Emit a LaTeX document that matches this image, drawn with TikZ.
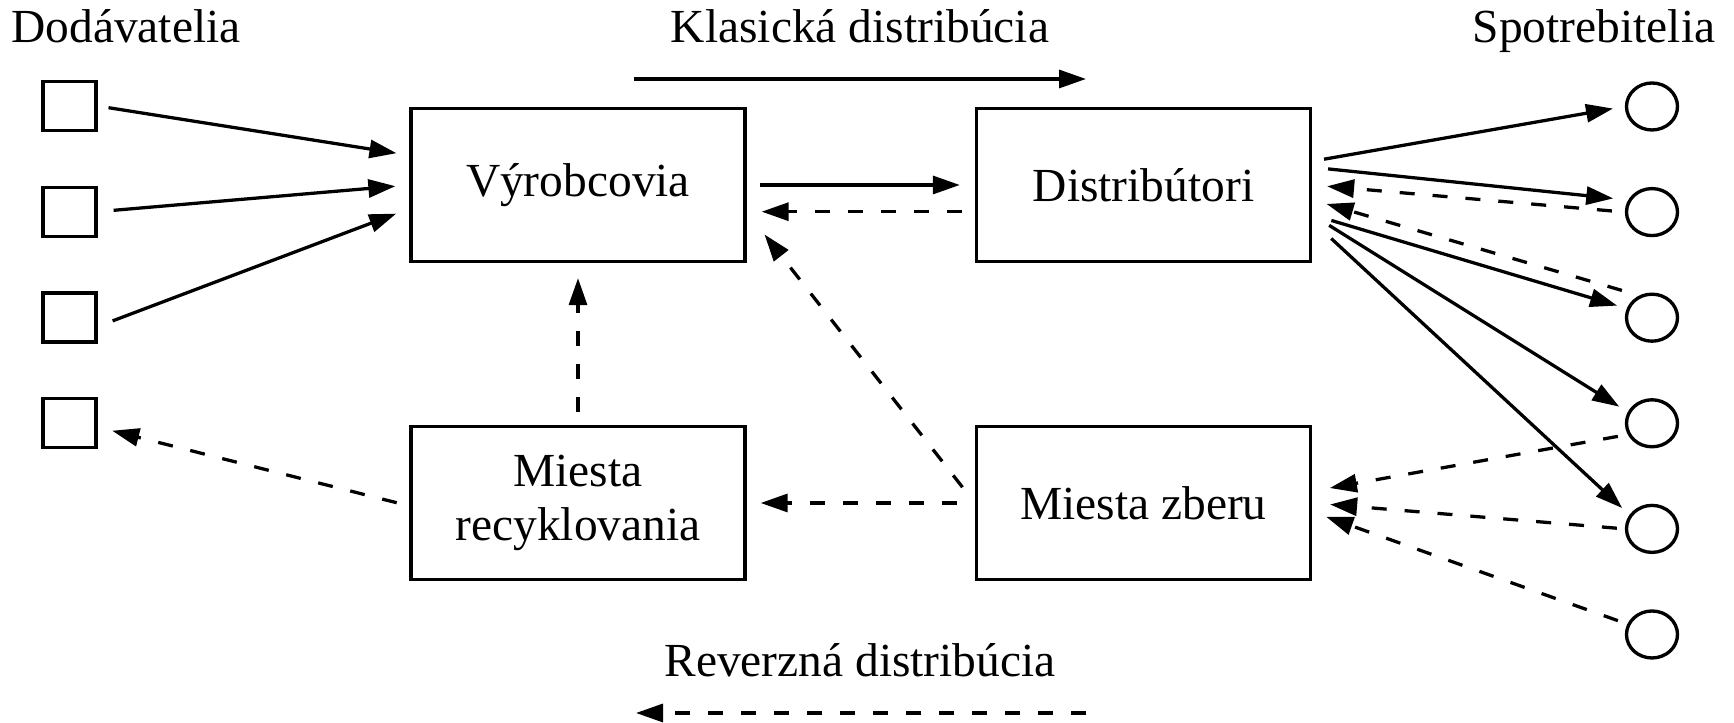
\documentclass[tikz,border=0pt]{standalone}
\usepackage{fontspec}
\setmainfont{Liberation Serif}
\usepackage{tikz}
\usetikzlibrary{arrows.meta,shapes.geometric}
\tikzstyle{box}=[rectangle, draw=black, line width=0.95pt, minimum width=3.34cm, minimum height=1.53cm, inner sep=0pt, align=center, anchor=center, font=\fontsize{13.5}{15.4}\selectfont]
\tikzstyle{annot}=[inner sep=0pt, font=\fontsize{13.5}{15.4}\selectfont]
\tikzstyle{dod}=[rectangle, draw=black, line width=0.95pt, minimum width=0.53cm, minimum height=0.49cm, inner sep=0pt]
\tikzstyle{spot}=[ellipse, draw=black, line width=0.95pt, minimum width=0.51cm, minimum height=0.47cm, inner sep=0pt]
\tikzstyle{flow}=[line width=0.93pt, -{Triangle[length=0.27cm,width=0.18cm]}]
\tikzstyle{back}=[flow, dash pattern=on 0.15cm off 0.18cm]

\begin{document}
\begin{tikzpicture}
	\useasboundingbox (0,0) rectangle (17.34,-7.23);

	% titles
	\node[annot, anchor=base west](dodavatelia) at (0.107,-0.43){Dodávatelia};
	\node[annot, anchor=base east](spotrebitelia) at (17.16,-0.43){Spotrebitelia};
	\node[annot, anchor=base](klasicka) at (8.6,-0.43){Klasická distribúcia};
	\node[annot, anchor=base](reverzna) at (8.6,-6.77){Reverzná distribúcia};
	\coordinate (kl1) at (6.34,-0.79);
	\coordinate (kl2) at (10.86,-0.79);
	\coordinate (rv1) at (10.86,-7.13);
	\coordinate (rv2) at (6.36,-7.13);
	\draw[flow] (kl1) -- (kl2);
	\draw[back] (rv1) -- (rv2);

	% main boxes
	\node[box](vyrobcovia) at (5.78,-1.85){Výrobcovia};
	\node[box](distributori) at (11.435,-1.85){Distribútori};
	\node[box, below of=vyrobcovia, node distance=3.18cm](recyklovanie){Miesta\\recyklovania};
	\node[box, below of=distributori, node distance=3.18cm](zber){Miesta zberu};

	% suppliers
	\node[dod](s1) at (0.695,-1.06){};
	\node[dod, below of=s1, node distance=1.057cm](s2){};
	\node[dod, below of=s2, node distance=1.057cm](s3){};
	\node[dod, below of=s3, node distance=1.057cm](s4){};

	% consumers
	\node[spot](c1) at (16.52,-1.065){};
	\node[spot, below of=c1, node distance=1.056cm](c2){};
	\node[spot, below of=c2, node distance=1.056cm](c3){};
	\node[spot, below of=c3, node distance=1.056cm](c4){};
	\node[spot, below of=c4, node distance=1.056cm](c5){};
	\node[spot, below of=c5, node distance=1.056cm](c6){};

	\draw[flow, shorten <=0.11cm, shorten >=0.13cm] (s1.east) -- (vyrobcovia.170);
	\draw[flow, shorten <=0.16cm, shorten >=0.14cm] (s2.east) -- (vyrobcovia.west);
	\draw[flow, shorten <=0.16cm, shorten >=0.14cm] (s3.342) -- (vyrobcovia.188);
	\draw[back, shorten <=0.13cm, shorten >=0.15cm] (recyklovanie.181) -- (s4.352);

	\draw[flow, shorten <=0.13cm, shorten >=0.15cm] (vyrobcovia.east) -- (distributori.west);
	\draw[back, shorten <=0.13cm, shorten >=0.15cm] (distributori.189) -- (vyrobcovia.351);
	\draw[back, shorten <=0.13cm, shorten >=0.15cm] (recyklovanie.north) -- (vyrobcovia.south);
	\draw[back, shorten <=0.2cm, shorten >=0.29cm] (zber.west) -- (vyrobcovia.351);
	\draw[back, shorten <=0.18cm, shorten >=0.14cm] (zber.west) -- (recyklovanie.east);

	\draw[flow, shorten <=0.12cm, shorten >=0.12cm] (distributori.8) -- (c1.west);
	\draw[flow, shorten <=0.16cm, shorten >=0.15cm] (distributori.6) -- (c2.153);
	\draw[back, shorten <=0.13cm, shorten >=0.15cm] (c2.west) -- (distributori.east);
	\draw[back, shorten <=0.18cm, shorten >=0.15cm] (c3.120) -- (distributori.355);
	\draw[flow, shorten <=0.2cm, shorten >=0.1cm] (distributori.350) -- (c3.160);
	\draw[flow, shorten <=0.2cm, shorten >=0.1cm] (distributori.350) -- (c4.155);
	\draw[flow, shorten <=0.26cm, shorten >=0.1cm] (distributori.348) -- (c5.148);

	\draw[back, shorten <=0.1cm, shorten >=0.18cm] (c4.205) -- (zber.4);
	\draw[back, shorten <=0.08cm, shorten >=0.18cm] (c5.west) -- (zber.east);
	\draw[back, shorten <=0.1cm, shorten >=0.15cm] (c6.157) -- (zber.357);

\end{tikzpicture}
\end{document}
